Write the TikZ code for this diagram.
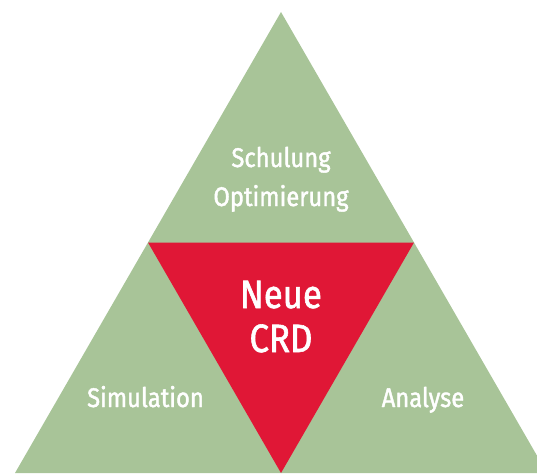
\documentclass[tikz,border=0pt]{standalone}
\usepackage{fontspec}
\setmainfont{Fira Sans}[FakeStretch=0.88, FakeBold=1.5]
\usepackage{xcolor}
\usetikzlibrary{positioning,calc}
\definecolor{fieldgreen}{RGB}{168,196,152}
\definecolor{corered}{RGB}{224,23,54}
\tikzset{
  % Beschriftung der Felder
  fieldlab/.style={text=white, font=\fontsize{27}{39}\selectfont, align=center, anchor=base, inner sep=0pt},
  % Beschriftung der Mitte
  corelab/.style={text=white, font=\fontsize{39.5}{44}\selectfont, align=center, anchor=base, inner sep=0pt},
}
\begin{document}
\begin{tikzpicture}[x=1pt, y=-1pt]
    \useasboundingbox (0,0) rectangle (537,473);
    % Ecken
    \coordinate (top) at (281,12);
    \coordinate (left) at (15,473);
    \coordinate (right) at (547,473);
    \coordinate (midL) at ($(top)!0.5!(left)$);
    \coordinate (midR) at ($(top)!0.5!(right)$);
    \coordinate (midB) at ($(left)!0.5!(right)$);
    % Dreiecke
    \fill[fieldgreen] (top) -- (left) -- (right) -- cycle;
    \fill[corered] (midL) -- (midR) -- (midB) -- cycle;
    % Texte
    \node[fieldlab] (schulung) at (281,206) {Schulung\\Optimierung};
    \node[corelab] (neue) at (281,352) {Neue\\CRD};
    \node[fieldlab] (simulation) at (145.5,407) {Simulation};
    \node[fieldlab] (analyse) at (423,407) {Analyse};
\end{tikzpicture}
\end{document}
